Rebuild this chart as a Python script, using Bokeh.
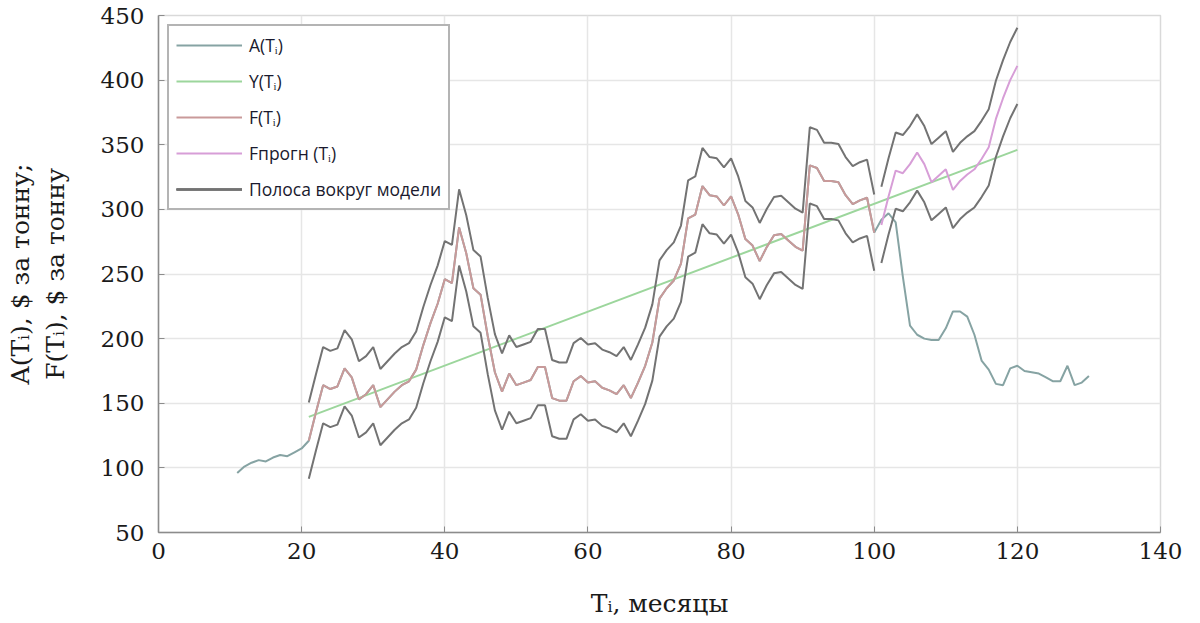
from bokeh.plotting import figure
from bokeh.models import Range1d, FixedTicker, Legend, LegendItem
from bokeh.embed import file_html
from bokeh.resources import INLINE

# --- data -------------------------------------------------------------
# actual price A(T), months 11..21 and 100..130 (21..100 runs under the model line)
a_head_months = list(range(11, 22))
a_head_vals = [96, 101, 104, 106, 105, 108, 110, 109, 112, 115, 121]
a_tail_months = list(range(100, 131))
a_tail_vals = [282, 292, 297, 290, 248, 210, 203, 200, 199, 199, 208, 221, 221,
               217, 203, 183, 176, 165, 164, 177, 179, 175, 174, 173, 170, 167,
               167, 179, 164, 166, 171]

# trend Y(T)
y_months = [21, 120]
y_vals = [139.5, 346]

# model F(T), months 21..100
f_months = list(range(21, 101))
f_vals = [121, 143, 164, 161, 163, 177, 170, 153, 157, 164,
          147, 153, 159, 164, 167, 176, 195, 212, 227, 246,
          243, 286, 266, 239, 234, 202, 174, 159, 173, 164,
          166, 168, 178, 178, 154, 152, 152, 167, 171, 166,
          167, 162, 160, 157, 164, 154, 166, 179, 197, 231,
          239, 245, 258, 293, 296, 318, 311, 310, 303, 310,
          296, 277, 272, 260, 271, 280, 281, 276, 271, 268,
          334, 332, 322, 322, 321, 311, 304, 307, 309, 282]

# forecast F_прогн(T), months 101..120
fc_months = list(range(101, 121))
fc_vals = [288, 310, 330, 328, 335, 344, 335, 321, 326, 331,
           315, 322, 327, 331, 339, 348, 370, 386, 400, 411]

# half-width of the band around the model
band_halfwidth = 29.5

x_ticks = [0, 20, 40, 60, 80, 100, 120, 140]
y_ticks = [50, 100, 150, 200, 250, 300, 350, 400, 450]

# A(T) over its whole span: between 21 and 100 it equals the model values
a_months = a_head_months + f_months[1:-1] + a_tail_months
a_vals = a_head_vals + f_vals[1:-1] + a_tail_vals

f_up = [v + band_halfwidth for v in f_vals]
f_lo = [v - band_halfwidth for v in f_vals]
fc_up = [v + band_halfwidth for v in fc_vals]
fc_lo = [v - band_halfwidth for v in fc_vals]

# --- figure -----------------------------------------------------------
p = figure(width=1200, height=623, output_backend="svg", toolbar_location=None,
           x_range=Range1d(0, 140), y_range=Range1d(50, 450),
           min_border_left=158, min_border_right=40,
           min_border_top=15, min_border_bottom=91)
p.background_fill_color = "white"
p.border_fill_color = "white"
p.outline_line_color = "#d9d9d9"
p.outline_line_width = 1.5

serif = "DejaVu Serif"
for ax in (p.xaxis[0], p.yaxis[0]):
    ax.axis_line_color = "#8c8c8c"
    ax.axis_line_width = 1.5
    ax.major_tick_in = 6
    ax.major_tick_out = 0
    ax.major_tick_line_color = "#8c8c8c"
    ax.minor_tick_line_color = None
    ax.major_label_text_font = serif
    ax.major_label_text_font_size = "23px"
    ax.major_label_text_color = "#1a1a1a"
    ax.axis_label_text_font = serif
    ax.axis_label_text_font_size = "25px"
    ax.axis_label_text_font_style = "normal"
    ax.axis_label_text_color = "#1a1a1a"

p.xaxis.ticker = FixedTicker(ticks=x_ticks)
p.yaxis.ticker = FixedTicker(ticks=y_ticks)
p.xaxis.major_label_standoff = 10
p.yaxis.major_label_standoff = 14
p.xaxis.axis_label = "Tᵢ, месяцы"
p.xaxis.axis_label_standoff = 27
p.yaxis.axis_label = "A(Tᵢ), $ за тонну;\nF(Tᵢ), $ за тонну"
p.yaxis.axis_label_standoff = 28

p.xgrid.grid_line_color = "#e6e6e6"
p.ygrid.grid_line_color = "#e6e6e6"
p.xgrid.grid_line_width = 1.5
p.ygrid.grid_line_width = 1.5

c_a = "#86a3a3"
c_y = "#9cd69c"
c_f = "#c99a9a"
c_fc = "#d79ed7"
c_band = "#737373"

r_a = p.line(a_months, a_vals, line_color=c_a, line_width=2)
r_y = p.line(y_months, y_vals, line_color=c_y, line_width=2)
r_f = p.line(f_months, f_vals, line_color=c_f, line_width=2)
r_fc = p.line(fc_months, fc_vals, line_color=c_fc, line_width=2)
r_b1 = p.line(f_months, f_up, line_color=c_band, line_width=2)
r_b2 = p.line(f_months, f_lo, line_color=c_band, line_width=2)
r_b3 = p.line(fc_months, fc_up, line_color=c_band, line_width=2)
r_b4 = p.line(fc_months, fc_lo, line_color=c_band, line_width=2)

legend = Legend(items=[
    LegendItem(label="A(Tᵢ)", renderers=[r_a]),
    LegendItem(label="Y(Tᵢ)", renderers=[r_y]),
    LegendItem(label="F(Tᵢ)", renderers=[r_f]),
    LegendItem(label="Fпрогн (Tᵢ)", renderers=[r_fc]),
    LegendItem(label="Полоса вокруг модели", renderers=[r_b1, r_b2, r_b3, r_b4]),
], location="top_left")
legend.margin = 9
legend.padding = 7
legend.spacing = 12
legend.glyph_width = 66
legend.glyph_height = 20
legend.label_height = 20
legend.label_standoff = 7
legend.label_text_font = "Open Sans"
legend.label_text_font_size = "17.5px"
legend.label_text_color = "#1a1a2e"
legend.border_line_color = "#6a6a6a"
legend.border_line_width = 2
legend.background_fill_color = "white"
legend.background_fill_alpha = 1.0
p.add_layout(legend)

open("out.html", "w").write(file_html(p, INLINE))
